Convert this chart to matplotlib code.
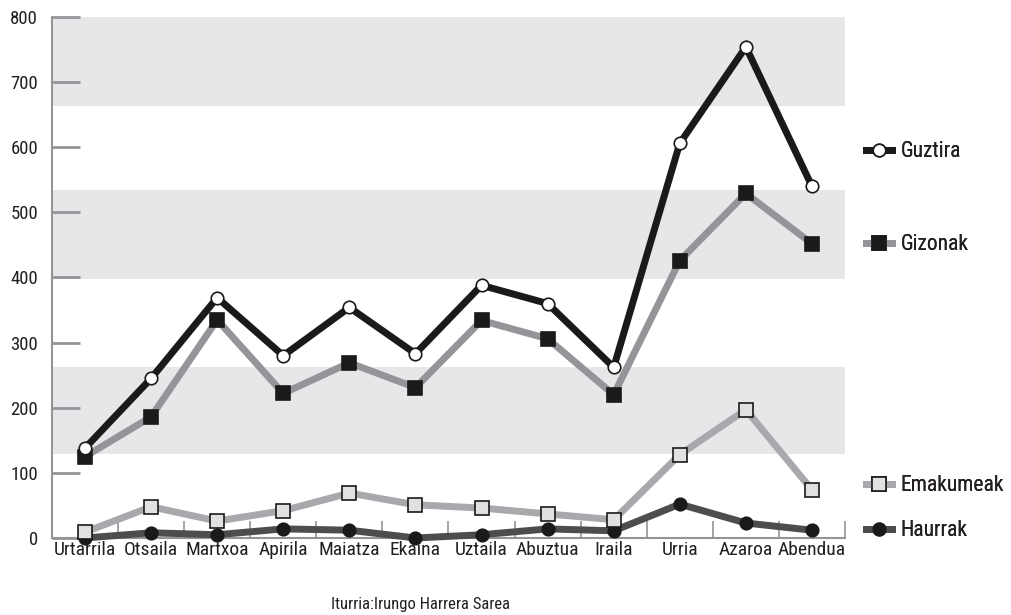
import numpy as np
import matplotlib
matplotlib.use('Agg')
import matplotlib.pyplot as plt

plt.rcParams['font.family'] = ['Roboto Condensed', 'Roboto', 'DejaVu Sans']
plt.rcParams['text.color'] = '#231f20'
plt.rcParams['xtick.labelcolor'] = '#231f20'
plt.rcParams['ytick.labelcolor'] = '#231f20'

# datuak
hilabeteak = ['Urtarrila', 'Otsaila', 'Martxoa', 'Apirila', 'Maiatza', 'Ekaina',
              'Uztaila', 'Abuztua', 'Iraila', 'Urria', 'Azaroa', 'Abendua']
guztira = [138, 245, 369, 280, 354, 283, 388, 360, 262, 606, 754, 540]
gizonak = [125, 186, 335, 222, 269, 231, 334, 306, 220, 426, 529, 452]
emakumeak = [9, 48, 26, 42, 69, 51, 46, 37, 28, 128, 197, 74]
haurrak = [0, 8, 5, 14, 12, 0, 5, 14, 11, 52, 23, 12]
bandak = [(129, 262), (397, 535), (663, 800)]

fig = plt.figure(figsize=(10.11, 6.15), dpi=100)
ax = fig.add_axes([0.0514, 0.1252, 0.7844, 0.8472])

for b0, b1 in bandak:
    ax.axhspan(b0, b1, color='#e6e7e8', lw=0, zorder=0)

x = np.arange(len(hilabeteak)) + 0.5

serieak = [
    ('Haurrak', haurrak, '#4d4d4d', 'o', '#1a1a1a', '#1a1a1a', 9),
    ('Emakumeak', emakumeak, '#a7a9ac', 's', '#e0e1e2', '#1a1a1a', 10),
    ('Gizonak', gizonak, '#939598', 's', '#1a1a1a', '#1a1a1a', 10),
    ('Guztira', guztira, '#1a1a1a', 'o', 'white', '#1a1a1a', 9),
]
handles = {}
for izena, y, lc, mk, mfc, mec, ms in serieak:
    l, = ax.plot(x, y, color=lc, lw=5, marker=mk, ms=ms, mfc=mfc, mec=mec,
                 mew=1.2, zorder=3, clip_on=False, solid_joinstyle='miter')
    handles[izena] = l

ax.set_xlim(0, 12)
ax.set_ylim(0, 800)
ax.set_yticks(range(0, 801, 100))
ax.set_xticks(range(0, 13))
ax.set_xticklabels([])
ax.set_xticks(x, minor=True)
ax.set_xticklabels(hilabeteak, minor=True, fontsize=14)
ax.tick_params(axis='x', which='minor', length=0, pad=2)
ax.tick_params(axis='x', which='major', direction='in', length=12, width=1.2, color='#939598')
ax.tick_params(axis='y', direction='in', length=20, width=2, color='#939598', labelsize=13.5, pad=10)
for s in ['top', 'right']:
    ax.spines[s].set_visible(False)
for s in ['left', 'bottom']:
    ax.spines[s].set_color('#939598')
    ax.spines[s].set_linewidth(1.5)

# legenda, sarrera bakoitza bere lekuan
posizioak = {'Guztira': 0.753, 'Gizonak': 0.602, 'Emakumeak': 0.210, 'Haurrak': 0.137}
for izena, ypos in posizioak.items():
    h = handles[izena]
    leg = fig.legend([h], [izena], loc='center left', bbox_to_anchor=(0.857, ypos),
                     frameon=False, fontsize=15.5, handlelength=1.2, handletextpad=0.4,
                     borderaxespad=0, borderpad=0)
    fig.add_artist(leg)

fig.text(0.4155, 0.01, 'Iturria:Irungo Harrera Sarea', ha='center', va='baseline', fontsize=12)

plt.savefig('out.png', dpi=100)
